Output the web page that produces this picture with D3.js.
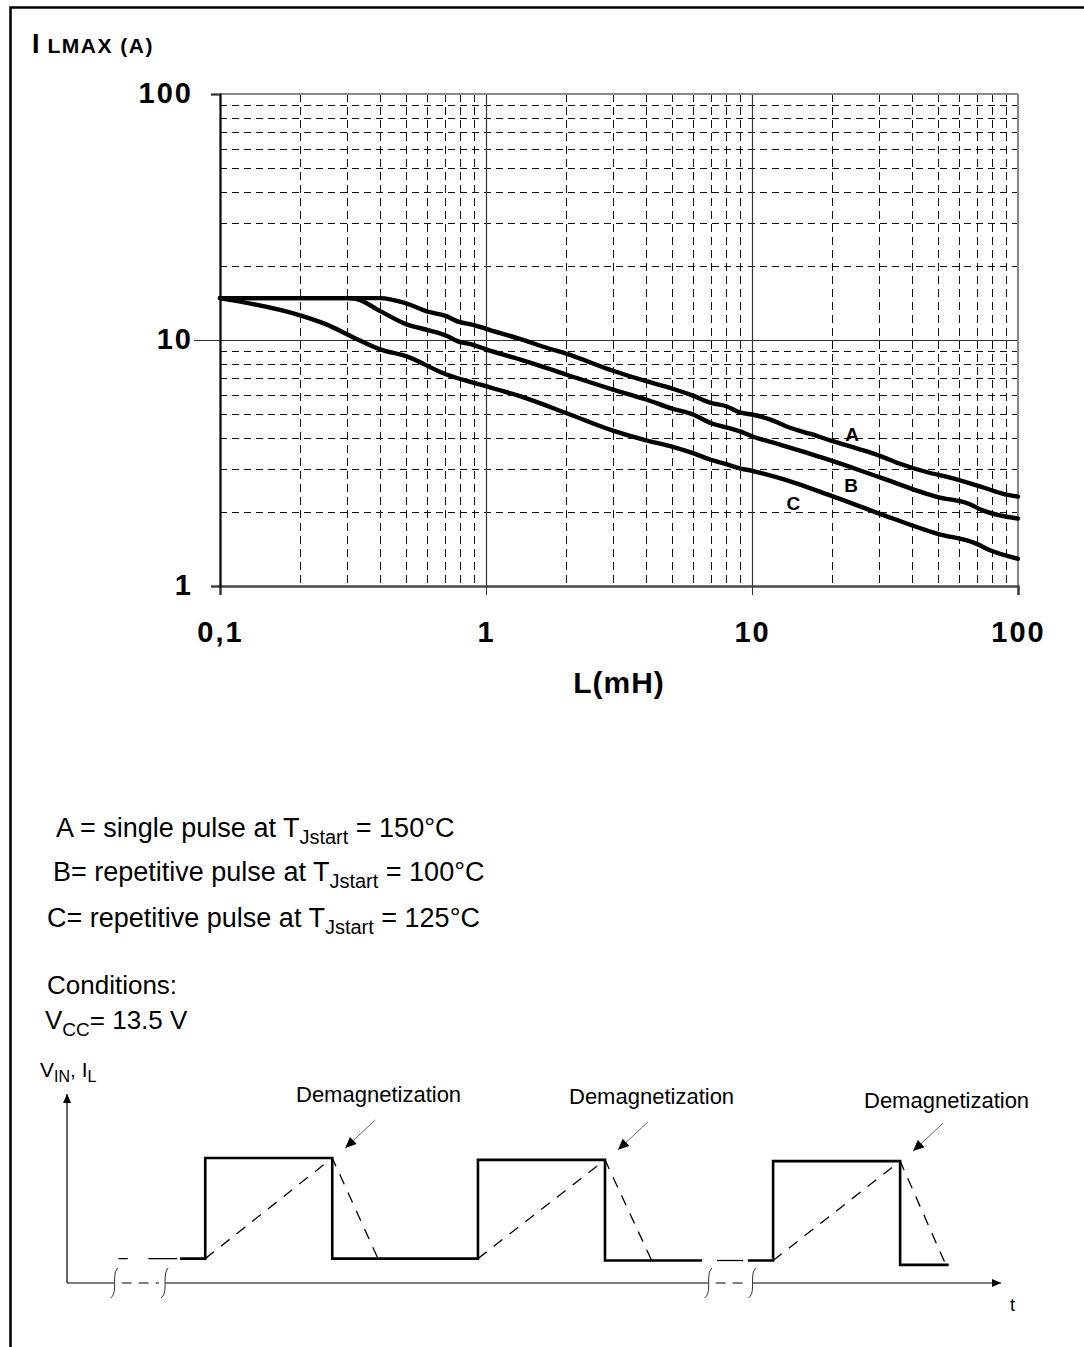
<!DOCTYPE html>
<html>
<head>
<meta charset="utf-8">
<script src="https://cdn.jsdelivr.net/npm/d3@7/dist/d3.min.js"></script>
<style>
  html, body { margin: 0; padding: 0; background: #fff; }
  svg { display: block; }
  text { font-family: "Liberation Sans", Arial, Helvetica, sans-serif; fill: #000; }
</style>
</head>
<body>
<script>
// ---- Maximum load current vs. inductance (log-log) ----
const xMajor = [0.1, 1, 10, 100];
const xTickLabels = ["0,1", "1", "10", "100"];
const yMajor = [1, 10, 100];
const yTickLabels = ["1", "10", "100"];

// Curve A: single pulse at TJstart = 150°C
const inductanceA = [0.1, 0.2, 0.3, 0.4, 0.5, 0.61, 0.71, 0.78, 0.9, 1.0, 1.34, 1.69, 2.0, 3.0, 4.0, 5.0, 6.0, 7.0, 8.0, 9.0, 10, 11.6, 13.8, 16.6, 19.8, 25.1, 30.1, 36, 45.6, 54.6, 73.6, 88, 100];
const currentA     = [14.8, 14.8, 14.8, 14.8, 14.1, 13.0, 12.5, 11.9, 11.5, 11.1, 10.1, 9.3, 8.8, 7.5, 6.8, 6.35, 5.94, 5.55, 5.38, 5.08, 4.98, 4.77, 4.41, 4.15, 3.9, 3.61, 3.39, 3.14, 2.9, 2.77, 2.52, 2.37, 2.31];

// Curve B: repetitive pulse at TJstart = 100°C
const inductanceB = [0.1, 0.2, 0.3, 0.32, 0.4, 0.5, 0.62, 0.71, 0.78, 0.9, 1.0, 1.34, 2.0, 3.0, 4.0, 5.0, 6.0, 7.0, 8.0, 9.0, 10, 12.8, 19.8, 30.1, 49.9, 65.2, 73.6, 100];
const currentB     = [14.8, 14.8, 14.8, 14.75, 13.1, 11.6, 10.9, 10.4, 9.9, 9.54, 9.16, 8.34, 7.24, 6.29, 5.73, 5.26, 4.98, 4.60, 4.41, 4.25, 4.06, 3.75, 3.24, 2.77, 2.30, 2.16, 2.03, 1.88];

// Curve C: repetitive pulse at TJstart = 125°C
const inductanceC = [0.1, 0.2, 0.25, 0.32, 0.4, 0.5, 0.71, 0.9, 1.0, 1.34, 2.0, 3.0, 4.0, 5.0, 6.0, 7.0, 8.0, 9.0, 10, 12.8, 19.8, 30.1, 49.9, 69.3, 78.1, 100];
const currentC     = [14.8, 12.6, 11.6, 10.2, 9.16, 8.6, 7.24, 6.7, 6.49, 5.91, 5.05, 4.28, 3.91, 3.69, 3.47, 3.26, 3.13, 3.01, 2.94, 2.74, 2.33, 1.97, 1.63, 1.49, 1.40, 1.29];

// Curve name tags and where they sit (inductance, current)
const curveNames = ["A", "B", "C"];
const nameL = [23.8, 23.6, 14.3];
const nameI = [4.13, 2.56, 2.18];

// ---- Timing diagram (time in arbitrary units 0..100, level 0..10) ----
const pulseEdges = [
  // [rise, fall, end of low, high level, low level after]
  [14.8, 28.4, 44.0, 10.0, 1.95],
  [44.0, 57.6, 68.0, 9.85, 1.8],
  [75.6, 89.2, 94.4, 9.75, 1.45]
];
const startLow = [12.1, 14.8];        // solid low stretch before the first pulse
const lowDashes = [[5.5, 6.5], [8.7, 11.8], [69.6, 72.4]];
const secondLowSolid = [72.9, 75.6];
const demagEnds = [33.3, 62.6, 94.1]; // current reaches zero after demagnetization
const axisBreaks = [[5.1, 10.5], [68.7, 73.4]];
const demagLabels = ["Demagnetization", "Demagnetization", "Demagnetization"];

const W = 1084, H = 1347;
const svg = d3.select("body").append("svg").attr("width", W).attr("height", H);

// outer frame (left and top edges)
svg.append("path").attr("d", `M10.5,${H} V7.5 H${W}`)
  .attr("fill", "none").attr("stroke", "#000").attr("stroke-width", 2.5);

const x = d3.scaleLog().domain([0.1, 100]).range([220, 1018]);
const y = d3.scaleLog().domain([1, 100]).range([586, 94]);

const isPow10 = v => Math.abs(Math.log10(v) - Math.round(Math.log10(v))) < 1e-9;
const xMinor = x.ticks().filter(v => !isPow10(v));
const yMinor = y.ticks().filter(v => !isPow10(v));

const grid = svg.append("g");
// dashed minor grid
grid.selectAll(".vmin").data(xMinor).join("line")
  .attr("x1", d => Math.round(x(d)) + 0.5).attr("x2", d => Math.round(x(d)) + 0.5)
  .attr("y1", y(100)).attr("y2", y(1))
  .attr("stroke", "#111").attr("stroke-width", 1).attr("stroke-dasharray", "8,5");
grid.selectAll(".hmin").data(yMinor).join("line")
  .attr("y1", d => Math.round(y(d)) + 0.5).attr("y2", d => Math.round(y(d)) + 0.5)
  .attr("x1", x(0.1)).attr("x2", x(100))
  .attr("stroke", "#111").attr("stroke-width", 1).attr("stroke-dasharray", "7,5");
// solid major grid
grid.selectAll(".vmaj").data([1, 10]).join("line")
  .attr("x1", d => Math.round(x(d)) + 0.5).attr("x2", d => Math.round(x(d)) + 0.5)
  .attr("y1", y(100)).attr("y2", y(1))
  .attr("stroke", "#333").attr("stroke-width", 1.2);
grid.selectAll(".hmaj").data([10]).join("line")
  .attr("y1", d => Math.round(y(d)) + 0.5).attr("y2", d => Math.round(y(d)) + 0.5)
  .attr("x1", x(0.1) - 26).attr("x2", x(100))
  .attr("stroke", "#333").attr("stroke-width", 1.2);

// plot borders
svg.append("line").attr("x1", x(0.1)).attr("x2", x(100)).attr("y1", y(100)).attr("y2", y(100))
  .attr("stroke", "#8a8a8a").attr("stroke-width", 2.2);
svg.append("line").attr("x1", x(100)).attr("x2", x(100)).attr("y1", y(100)).attr("y2", y(1))
  .attr("stroke", "#8a8a8a").attr("stroke-width", 2.2);

// axes
const xAxis = d3.axisBottom(x).tickValues(xMajor).tickSize(9).tickPadding(26)
  .tickFormat((d, i) => xTickLabels[i]);
const gx = svg.append("g").attr("transform", `translate(0,${y(1)})`).call(xAxis);
gx.select(".domain").attr("stroke", "#4a4a4a").attr("stroke-width", 2.6);
gx.selectAll(".tick line").attr("stroke", "#333").attr("stroke-width", 1);
gx.selectAll(".tick text")
  .attr("font-family", "Liberation Sans, Arial, sans-serif")
  .attr("font-size", 29).attr("font-weight", "bold").attr("letter-spacing", 2)
  .attr("fill", "#000").attr("dy", "0.71em");

const yAxis = d3.axisLeft(y).tickValues(yMajor).tickSize(9).tickPadding(18)
  .tickFormat((d, i) => yTickLabels[i]);
const gy = svg.append("g").attr("transform", `translate(${x(0.1)},0)`).call(yAxis);
gy.select(".domain").attr("stroke", "#000").attr("stroke-width", 2.2);
gy.selectAll(".tick line").attr("stroke", "#333").attr("stroke-width", 1);
gy.selectAll(".tick text")
  .attr("font-family", "Liberation Sans, Arial, sans-serif")
  .attr("font-size", 29).attr("font-weight", "bold").attr("letter-spacing", 2)
  .attr("fill", "#000").attr("dy", "0.28em");

// axis titles
const yTitle = svg.append("text").attr("x", 32).attr("y", 53).attr("font-weight", "bold");
yTitle.append("tspan").attr("font-size", 27).text("I");
yTitle.append("tspan").attr("font-size", 21).attr("dx", 8).attr("letter-spacing", 1.5).text("LMAX (A)");

svg.append("text").attr("x", (x(0.1) + x(100)) / 2).attr("y", 693)
  .attr("text-anchor", "middle").attr("font-size", 30).attr("font-weight", "bold")
  .attr("letter-spacing", 1).text("L(mH)");

// curves
const series = [
  { L: inductanceA, I: currentA },
  { L: inductanceB, I: currentB },
  { L: inductanceC, I: currentC }
];
const line = d3.line().x(d => x(d[0])).y(d => y(d[1])).curve(d3.curveMonotoneX);
svg.append("g").selectAll("path").data(series).join("path")
  .attr("d", s => line(s.L.map((l, i) => [l, s.I[i]])))
  .attr("fill", "none").attr("stroke", "#000").attr("stroke-width", 4.4)
  .attr("stroke-linecap", "round").attr("stroke-linejoin", "round");

svg.append("g").selectAll("text").data(curveNames).join("text")
  .attr("x", (d, i) => x(nameL[i])).attr("y", (d, i) => y(nameI[i]))
  .attr("dy", "0.36em").attr("text-anchor", "middle")
  .attr("font-size", 19).attr("font-weight", "bold").text(d => d);

// ---- legend / conditions ----
const legendRows = [
  { lead: "A = single pulse at T", sub: "Jstart", tail: " = 150°C", x: 56, y: 837 },
  { lead: "B= repetitive pulse at T", sub: "Jstart", tail: " = 100°C", x: 53, y: 881 },
  { lead: "C= repetitive pulse at T", sub: "Jstart", tail: " = 125°C", x: 47, y: 927 }
];
legendRows.forEach(r => {
  const t = svg.append("text").attr("x", r.x).attr("y", r.y).attr("font-size", 27);
  t.append("tspan").text(r.lead);
  t.append("tspan").attr("font-size", 20).attr("dy", 7).text(r.sub);
  t.append("tspan").attr("dy", -7).text(r.tail);
});
svg.append("text").attr("x", 47).attr("y", 994).attr("font-size", 26).text("Conditions:");
const vcc = svg.append("text").attr("x", 45).attr("y", 1029).attr("font-size", 26);
vcc.append("tspan").text("V");
vcc.append("tspan").attr("font-size", 19).attr("dy", 7).text("CC");
vcc.append("tspan").attr("dy", -7).text("= 13.5 V");

// ---- timing diagram ----
const t = d3.scaleLinear().domain([0, 100]).range([67, 1001]);
const v = d3.scaleLinear().domain([0, 10]).range([1283, 1158]);

const defs = svg.append("defs");
defs.append("marker").attr("id", "arrowHead").attr("viewBox", "0 0 10 10")
  .attr("refX", 10).attr("refY", 5).attr("markerWidth", 16).attr("markerHeight", 11)
  .attr("markerUnits", "userSpaceOnUse").attr("orient", "auto")
  .append("path").attr("d", "M0,0.5 L10,5 L0,9.5 Z").attr("fill", "#000");
defs.append("marker").attr("id", "axisHead").attr("viewBox", "0 0 10 10")
  .attr("refX", 10).attr("refY", 5).attr("markerWidth", 15).attr("markerHeight", 9)
  .attr("markerUnits", "userSpaceOnUse").attr("orient", "auto")
  .append("path").attr("d", "M0,0.5 L10,5 L0,9.5 Z").attr("fill", "#000");

const td = svg.append("g");
// vertical axis with arrow
td.append("line").attr("x1", t(0)).attr("x2", t(0)).attr("y1", v(0)).attr("y2", 1094)
  .attr("stroke", "#000").attr("stroke-width", 1.2).attr("marker-end", "url(#axisHead)");
// time axis, broken at the two gaps
const axisSegs = [[0, axisBreaks[0][0]], [axisBreaks[0][1], axisBreaks[1][0]], [axisBreaks[1][1], 100]];
axisSegs.forEach((s, i) => {
  td.append("line").attr("x1", t(s[0])).attr("x2", t(s[1])).attr("y1", v(0)).attr("y2", v(0))
    .attr("stroke", "#000").attr("stroke-width", 1.2)
    .attr("marker-end", i === axisSegs.length - 1 ? "url(#axisHead)" : null);
});
axisBreaks.forEach(b => {
  td.append("line").attr("x1", t(b[0]) + 6).attr("x2", t(b[1]) - 6).attr("y1", v(0)).attr("y2", v(0))
    .attr("stroke", "#000").attr("stroke-width", 1.2).attr("stroke-dasharray", "10,7").attr("stroke-dashoffset", -1);
  b.forEach(p => {
    const cx = t(p), cy = v(0);
    td.append("path")
      .attr("d", `M${cx - 4},${cy + 15} Q${cx},${cy + 12} ${cx},${cy + 4} L${cx},${cy - 5} Q${cx},${cy - 12} ${cx + 3},${cy - 15}`)
      .attr("fill", "none").attr("stroke", "#333").attr("stroke-width", 1);
  });
});
td.append("text").attr("x", t(100) + 9).attr("y", 1311).attr("font-size", 18).text("t");

// axis caption V_IN, I_L
const cap = td.append("text").attr("x", 40).attr("y", 1077).attr("font-size", 21);
cap.append("tspan").text("V");
cap.append("tspan").attr("font-size", 16).attr("dy", 5).text("IN");
cap.append("tspan").attr("dy", -5).text(", I");
cap.append("tspan").attr("font-size", 16).attr("dy", 5).text("L");

// dashed low-level stubs before the pulses and in the second break
lowDashes.forEach((d, i) => {
  const lvl = i < 2 ? pulseEdges[0][4] : pulseEdges[1][4];
  td.append("line").attr("x1", t(d[0])).attr("x2", t(d[1])).attr("y1", v(lvl)).attr("y2", v(lvl))
    .attr("stroke", "#000").attr("stroke-width", 1.3);
});

// input voltage (solid square pulses)
const vinPts = [];
vinPts.push([startLow[0], pulseEdges[0][4]]);
pulseEdges.forEach((p, i) => {
  const lowBefore = i === 0 ? pulseEdges[0][4] : pulseEdges[i - 1][4];
  if (i === 2) {
    td.append("path").attr("d", d3.line()(vinPts.map(q => [t(q[0]), v(q[1])])))
      .attr("fill", "none").attr("stroke", "#000").attr("stroke-width", 2.6);
    vinPts.length = 0;
    vinPts.push([secondLowSolid[0], lowBefore]);
  }
  vinPts.push([p[0], lowBefore], [p[0], p[3]], [p[1], p[3]], [p[1], p[4]], [p[2], p[4]]);
});
td.append("path").attr("d", d3.line()(vinPts.map(q => [t(q[0]), v(q[1])])))
  .attr("fill", "none").attr("stroke", "#000").attr("stroke-width", 2.6);

// load current (dashed ramps up, then demagnetization ramp down)
pulseEdges.forEach((p, i) => {
  const lowBefore = i === 0 ? pulseEdges[0][4] : pulseEdges[i - 1][4];
  const pts = [[p[0], lowBefore], [p[1], p[3]], [demagEnds[i], p[4]]];
  td.append("path").attr("d", d3.line()(pts.map(q => [t(q[0]), v(q[1])])))
    .attr("fill", "none").attr("stroke", "#000").attr("stroke-width", 1.3)
    .attr("stroke-dasharray", "11,9");
});

// demagnetization call-outs
const labelX = [296, 569, 864];
const labelY = [1102, 1104, 1108];
pulseEdges.forEach((p, i) => {
  const tipX = t(p[1]) + 13, tipY = v(p[3]) - 10;
  td.append("line").attr("x1", tipX + 30).attr("y1", tipY - 28).attr("x2", tipX).attr("y2", tipY)
    .attr("stroke", "#555").attr("stroke-width", 0.9).attr("marker-end", "url(#arrowHead)");
  td.append("text").attr("x", labelX[i]).attr("y", labelY[i]).attr("font-size", 22)
    .text(demagLabels[i]);
});
</script>
</body>
</html>
